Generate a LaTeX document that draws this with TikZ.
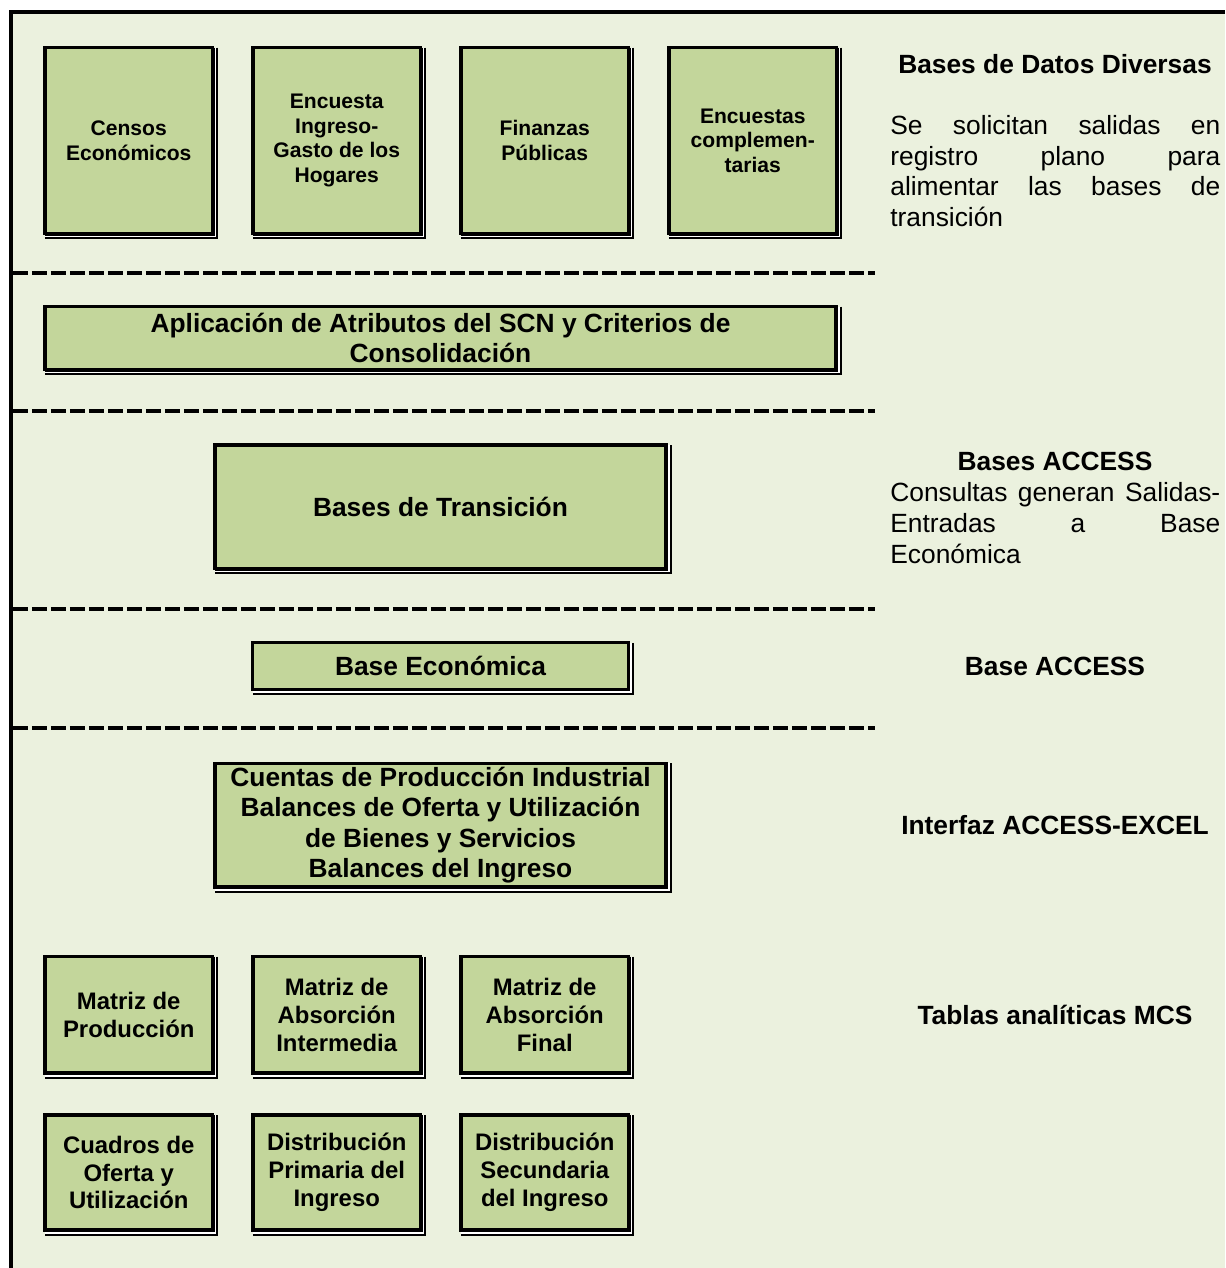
\documentclass[tikz,border=0pt]{standalone}
\usepackage{fontspec}
\setmainfont{Liberation Sans}
\usetikzlibrary{positioning}
\definecolor{page}{HTML}{EBF1DE}
\definecolor{olive}{HTML}{C3D69B}
\tikzstyle{block} = [draw, rectangle, line width=1.8pt, outer sep=0pt, inner sep=2pt, fill=olive, align=center]
\tikzstyle{source} = [block, minimum width=3.35cm, minimum height=3.72cm, font=\fontsize{12}{14}\selectfont\bfseries]
\tikzstyle{table} = [block, minimum width=3.35cm, font=\fontsize{13.6}{15.9}\selectfont\bfseries]
\tikzstyle{wide} = [block, font=\fontsize{15}{17.3}\selectfont\bfseries]
\tikzstyle{thick edge} = [line width=0.6pt]
\tikzstyle{gap} = [white, line width=0.9pt]
\tikzstyle{rim} = [line width=1.1pt]
\tikzstyle{frame} = [line width=2pt]
\tikzstyle{divider} = [line width=2pt, dash pattern=on 0.31cm off 0.07cm]
\tikzstyle{heading} = [font=\fontsize{15}{17.5}\selectfont\bfseries, anchor=base, inner sep=0pt]
\tikzstyle{note} = [font=\fontsize{15}{17.5}\selectfont, text width=6.6cm, align=justify, inner sep=0pt, anchor=north west]

\begin{document}
\begin{tikzpicture}[x=0.02cm, y=-0.02cm]
    \useasboundingbox (0, 0) rectangle (1225, 1268);
    \fill [page] (11, 12) rectangle (1225, 1268);
    \draw [frame] (11, 1268) -- (11, 12) -- (1225, 12);

    \foreach \i/\txt in {1/{Censos\\Económicos}, 2/{Encuesta\\Ingreso-\\Gasto de los\\Hogares}, 3/{Finanzas\\Públicas}, 4/{Encuestas\\complemen-\\tarias}} {
        \node (source \i) [source] at ({128.75 + 208 * (\i - 1)}, 140.6) {\txt};
    }

    \node (attributes) [wide, minimum width=15.82cm, minimum height=1.26cm] at (440.5, 338.2) {Aplicación de Atributos del SCN y Criterios de\\Consolidación};
    \node (transition) [wide, minimum width=9.02cm, minimum height=2.47cm] at (440.5, 506.8) {Bases de Transición};
    \node (economic) [wide, minimum width=7.51cm, minimum height=0.93cm] at (440.5, 666) {Base Económica};
    \node (accounts) [wide, minimum width=9.02cm, minimum height=2.47cm] at (440.5, 825.2) {Cuentas de Producción Industrial\\Balances de Oferta y Utilización\\de Bienes y Servicios\\Balances del Ingreso};

    \foreach \i/\txt in {1/{Matriz de\\Producción}, 2/{Matriz de\\Absorción\\Intermedia}, 3/{Matriz de\\Absorción\\Final}} {
        \node (table 1\i) [table, minimum height=2.33cm] at ({128.75 + 208 * (\i - 1)}, 1014.8) {\txt};
    }

    \foreach \i/\txt in {1/{Cuadros de\\Oferta y\\Utilización}, 2/{Distribución\\Primaria del\\Ingreso}, 3/{Distribución\\Secundaria\\del Ingreso}} {
        \node (table 2\i) [table, minimum height=2.3cm] at ({128.75 + 208 * (\i - 1)}, 1172.5) {\txt};
    }

    \foreach \n in {source 1, source 2, source 3, source 4, attributes, transition, economic, accounts, table 11, table 12, table 13, table 21, table 22, table 23} {
        \draw [thick edge] ([shift={(1.6, 0)}]\n.north east) |- ([shift={(0, 1.6)}]\n.south west);
        \draw [gap] ([shift={(2.9, 0)}]\n.north east) |- ([shift={(0, 2.9)}]\n.south west);
        \draw [rim] ([shift={(4.7, 0)}]\n.north east) |- ([shift={(0, 4.7)}]\n.south west);
    }

    \foreach \y in {273, 411, 609, 728} {
        \draw [divider] (13, \y) -- (875, \y);
    }

    \node (databases) [heading] at (1055, 73) {Bases de Datos Diversas};
    \node (request) [note] at (890, 115) {Se solicitan salidas en\linebreak registro plano para\linebreak alimentar las bases de\linebreak transición};
    \node (access) [heading] at (1055, 470.5) {Bases ACCESS};
    \node (queries) [note] at (890, 482.5) {Consultas generan Salidas-\linebreak Entradas a Base\linebreak Económica};
    \node (base access) [heading] at (1055, 675.5) {Base ACCESS};
    \node (interface) [heading] at (1055, 834.5) {Interfaz ACCESS-EXCEL};
    \node (tables) [heading] at (1055, 1024.5) {Tablas analíticas MCS};
\end{tikzpicture}
\end{document}
